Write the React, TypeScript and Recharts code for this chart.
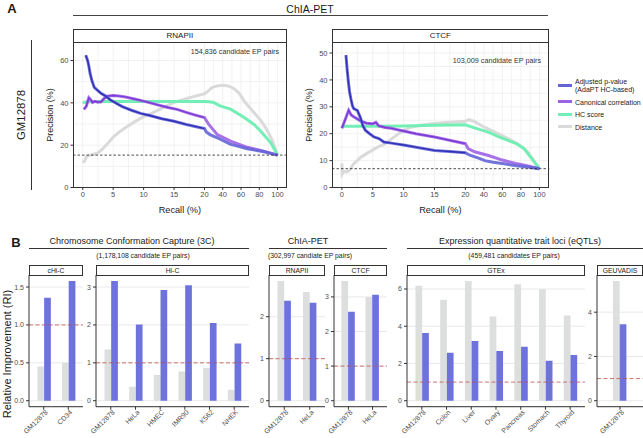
import React from 'react';
import { LineChart, Line, XAxis, YAxis, CartesianGrid, ReferenceLine, BarChart, Bar } from 'recharts';

const FONT = '"Liberation Sans", Arial, Helvetica, sans-serif';
const INK = '#1a1a1a';
const TICK = '#4d4d4d';
const FRAME = '#333333';

const COL_ADJ = '#6464d8';
const COL_ADJ_CORE = '#2f2fb5';
const COL_CC = '#9d62e6';
const COL_CC_CORE = '#7b3ad6';
const COL_HC = '#72efb4';
const COL_DIST = '#dadada';
const COL_BAR_GREY = '#dcdfdd';
const COL_BAR_BLUE = '#6e72db';
const COL_REF = '#c0504d';

// ---------------- Panel A data ----------------
const recallTicks = [0, 5, 10, 15, 20, 40, 60, 80, 100];
const recallMinor = [2.5, 7.5, 12.5, 17.5, 30, 50, 70, 90];

const rnaAdjR = [0.5, 0.8, 1.0, 1.2, 1.5, 1.9, 2.4, 3.0, 3.7, 4.5, 5.5, 6.5, 8, 9.5, 11, 13, 15, 17, 19, 20, 22, 26, 34, 48, 67, 85, 100];
const rnaAdjP = [62.5, 60, 57.4, 54, 50.5, 47.3, 46, 44.5, 43.3, 41.5, 39.8, 38.2, 36.5, 35, 34, 32.5, 31.3, 29.8, 28.5, 27.8, 26.2, 25, 23.5, 20.5, 18.3, 16.9, 15.3];
const rnaCcR = [0.2, 0.6, 1.0, 1.3, 1.6, 2.0, 2.5, 3.0, 3.5, 4.0, 5.0, 6.0, 7.0, 8.5, 10, 12, 14, 15.5, 17, 18.5, 20, 24.7, 34, 48.5, 67, 85, 100];
const rnaCcP = [36.9, 38.5, 42.4, 41.5, 40.2, 40.7, 40.3, 40.5, 42.0, 43.2, 43.5, 43.2, 42.8, 41.8, 40.8, 39.3, 37.8, 36.9, 35.5, 34.2, 33, 29.8, 25, 21.9, 19, 17.2, 15.3];
const rnaHcR = [0, 1, 3, 5, 10, 15, 20, 25, 30, 37, 48.5, 60, 67, 75, 81.6, 92.6, 100];
const rnaHcP = [40.2, 40.5, 40.6, 40.6, 40.6, 40.6, 40.6, 40.5, 40.2, 38.6, 37, 34, 32, 29.5, 26.6, 21.1, 15.3];
const rnaDistR = [0, 0.3, 0.6, 1.0, 1.5, 2.5, 3.0, 4.0, 5.0, 6.0, 7.0, 8.5, 10, 11.5, 13, 15, 17, 18.5, 20, 24, 28, 34, 40, 46, 52, 58, 64, 70, 76, 82, 88, 94, 100];
const rnaDistP = [11.8, 12.5, 14.5, 15.2, 15.5, 16.3, 17.5, 20.5, 23.8, 26.2, 28.2, 31, 33.5, 35.3, 37.5, 40.2, 42, 43.2, 44.3, 45.5, 47.2, 48, 48.3, 48, 46.8, 44.5, 40.5, 37.5, 34.5, 31.5, 27.5, 22.5, 15.3];
const rnaBaseline = 15.3;

const ctAdjR = [0.66, 0.85, 1.05, 1.25, 1.45, 1.7, 1.9, 2.2, 2.5, 3.0, 3.4, 3.8, 4.5, 5.2, 6.0, 6.8, 8, 10, 12, 15, 18, 20, 25, 35, 41, 50, 62, 75, 87, 100];
const ctAdjP = [49.2, 44, 39.3, 35.5, 33.1, 30.5, 29.4, 29, 28.7, 26, 23, 21.3, 20, 18.8, 18.2, 16.9, 16.5, 15.8, 15, 13.8, 13.3, 12.9, 12, 10.8, 10, 9.4, 8.8, 8.1, 7.6, 7];
const ctCcR = [0, 0.5, 1.1, 1.5, 1.9, 2.5, 3, 4, 5, 5.5, 6, 7, 8, 9, 10, 12, 15, 18, 20, 23, 30, 45, 60, 76.5, 90, 100];
const ctCcP = [22, 25, 28.7, 27, 26.3, 25.5, 24.8, 23.9, 23.7, 24.2, 22.9, 22.3, 22, 21.5, 21, 20, 18.8, 17.3, 16.3, 14.5, 13.3, 11.9, 10.2, 8.8, 7.8, 7];
const ctHcR = [0, 5, 10, 15, 20, 24, 35, 45, 55, 66, 75, 83.5, 90, 100];
const ctHcP = [22.8, 22.8, 22.9, 23.1, 23.3, 22.8, 21.6, 20.6, 19, 17.5, 16.3, 14.5, 11.5, 7];
const ctDistR = [0, 0.05, 0.3, 0.8, 1.3, 1.9, 2.5, 3, 4, 5, 6, 6.8, 8, 9.5, 11, 13, 15, 17, 20, 24, 30, 40, 52, 64, 76.5, 88, 100];
const ctDistP = [9, 5, 6, 5.8, 6.5, 8.8, 10, 11.2, 12.6, 14, 15.3, 15.9, 18, 20.5, 22.3, 23.2, 23.8, 24.2, 24.6, 25.2, 24.5, 22.5, 20.6, 18.6, 16.3, 13, 7];
const ctBaseline = 7;

// ---------------- Panel B data ----------------
const chicCats = ['GM12878', 'CD34'];
const chicGrey = [0.45, 0.5];
const chicBlue = [1.36, 1.58];
const hicCats = ['GM12878', 'HeLa', 'HMEC', 'IMR90', 'K562', 'NHEK'];
const hicGrey = [1.35, 0.37, 0.68, 0.77, 0.86, 0.29];
const hicBlue = [3.16, 2.01, 2.92, 3.05, 2.05, 1.51];
const rnapCats = ['GM12878', 'HeLa'];
const rnapGrey = [2.85, 2.59];
const rnapBlue = [2.38, 2.33];
const ctcfCats = ['GM12878', 'HeLa'];
const ctcfGrey = [3.46, 3.0];
const ctcfBlue = [2.57, 3.06];
const gtexCats = ['GM12878', 'Colon', 'Liver', 'Ovary', 'Pancreas', 'Stomach', 'Thyroid'];
const gtexGrey = [6.17, 5.42, 6.43, 4.52, 6.25, 5.99, 4.58];
const gtexBlue = [3.64, 2.57, 3.2, 2.67, 2.9, 2.14, 2.46];
const geuCats = ['GM12878'];
const geuGrey = [5.41];
const geuBlue = [3.45];

// ---------------- helpers ----------------
const warp = (r: number) => (r <= 20 ? r : 20 + (r - 20) * 0.15);
const pts = (rs: number[], ps: number[]) => rs.map((r, i) => ({ t: warp(r), p: ps[i] }));
const corePts = (rs: number[], ps: number[]) => pts(rs, ps).filter((d) => d.t <= 20.01);
const xTickPos = recallTicks.map(warp);
const xGrid = [...recallTicks, ...recallMinor].map(warp);
const xLabel = (v: number) => {
  const i = xTickPos.findIndex((p) => Math.abs(p - v) < 1e-6);
  return i >= 0 ? String(recallTicks[i]) : '';
};

function Txt({ x, y, size, children, anchor = 'middle', rotate = 0, weight = 400, color = INK }: any) {
  const tx = anchor === 'middle' ? '-50%' : anchor === 'end' ? '-100%' : '0';
  return (
    <div
      style={{
        position: 'absolute', left: x, top: y, fontSize: size, fontWeight: weight, color,
        fontFamily: FONT, lineHeight: 1, whiteSpace: 'nowrap',
        transform: `translate(${tx}, -50%) rotate(${rotate}deg)`, transformOrigin: '50% 50%',
      }}
    >
      {children}
    </div>
  );
}

function Box({ x, y, w, h, border = `1px solid ${FRAME}`, bg = 'transparent' }: any) {
  return <div style={{ position: 'absolute', left: x, top: y, width: w, height: h, border, background: bg, boxSizing: 'border-box' }} />;
}

function Strip({ x, y, w, h, label, size }: any) {
  return (
    <div style={{
      position: 'absolute', left: x, top: y, width: w, height: h, border: `1px solid ${FRAME}`, boxSizing: 'border-box',
      display: 'flex', alignItems: 'center', justifyContent: 'center', fontSize: size, fontFamily: FONT, color: INK, background: '#fff',
    }}>{label}</div>
  );
}

function PRPanel({ x, w, yMax, yTicks, yGrid, base, strip, note, noteY, adj, cc, hc, dist }: any) {
  const top = 42, h = 145.5, axW = 30, axH = 22;
  return (
    <>
      <div style={{ position: 'absolute', left: x - axW, top }}>
        <LineChart width={axW + w} height={h + axH} margin={{ top: 0, right: 0, bottom: 0, left: 0 }}>
          <CartesianGrid stroke="#ececec" strokeWidth={0.7} horizontalValues={yGrid} verticalValues={xGrid} />
          <XAxis type="number" dataKey="t" domain={[-1.6, 33.6]} allowDataOverflow ticks={xTickPos} interval={0}
            tickFormatter={xLabel} tickSize={2.5} axisLine={false} tickLine={{ stroke: FRAME }}
            tick={{ fontSize: 7.5, fill: TICK, fontFamily: FONT }} height={axH} />
          <YAxis type="number" domain={[0, yMax]} allowDataOverflow ticks={yTicks} interval={0} width={axW}
            tickSize={2.5} axisLine={false} tickLine={{ stroke: FRAME }}
            tick={{ fontSize: 7.5, fill: TICK, fontFamily: FONT }} />
          <Line data={dist} dataKey="p" stroke={COL_DIST} strokeWidth={3} dot={false} isAnimationActive={false} />
          <Line data={hc} dataKey="p" stroke={COL_HC} strokeWidth={3} dot={false} isAnimationActive={false} />
          <Line data={cc.all} dataKey="p" stroke={COL_CC} strokeWidth={3} strokeOpacity={0.9} dot={false} isAnimationActive={false} />
          <Line data={cc.core} dataKey="p" stroke={COL_CC_CORE} strokeWidth={1.4} dot={false} isAnimationActive={false} />
          <Line data={adj.all} dataKey="p" stroke={COL_ADJ} strokeWidth={3} strokeOpacity={0.9} dot={false} isAnimationActive={false} />
          <Line data={adj.core} dataKey="p" stroke={COL_ADJ_CORE} strokeWidth={1.4} dot={false} isAnimationActive={false} />
          <ReferenceLine y={base} stroke="#222" strokeDasharray="2.5 2" strokeWidth={0.8} />
        </LineChart>
      </div>
      <Box x={x} y={top} w={w} h={h} />
      <Strip x={x} y={29} w={w} h={13.5} label={strip} size={8} />
      <Txt x={x + w - 8} y={noteY} size={7.2} anchor="end" color="#333">{note}</Txt>
      <Txt x={x - 23} y={115} size={9} rotate={-90}>Precision (%)</Txt>
      <Txt x={x + w / 2} y={211} size={9.2}>Recall (%)</Txt>
    </>
  );
}

const RotTick = (props: any) => {
  const { x, y, payload } = props;
  return (
    <text transform={`translate(${x + 2},${y - 1.5}) rotate(-45)`} textAnchor="end" fontSize={7} fill={TICK}
      fontFamily={FONT} dy="0.5em">{payload.value}</text>
  );
};

function RIPanel({ x, w, cats, grey, blue, ticks, fmt, pad, strip }: any) {
  const top = 275, h = 131.7, axW = 28, axH = 45;
  const data = cats.map((c: string, i: number) => ({ c, g: grey[i], b: blue[i] }));
  const m = Math.max(...grey, ...blue);
  return (
    <>
      <div style={{ position: 'absolute', left: x - axW, top }}>
        <BarChart width={axW + w} height={h + axH} data={data} margin={{ top: 0, right: 0, bottom: 0, left: 0 }} barGap={0}>
          <CartesianGrid vertical={false} stroke="#e3e3e3" strokeWidth={0.8} />
          <XAxis dataKey="c" type="category" padding={{ left: pad, right: pad }} interval={0} tickSize={3}
            axisLine={{ stroke: FRAME }} tickLine={{ stroke: FRAME }} tick={<RotTick />} height={axH} />
          <YAxis type="number" domain={[-0.05 * m, 1.05 * m]} allowDataOverflow ticks={ticks} interval={0}
            tickFormatter={fmt} width={axW} tickSize={3} axisLine={{ stroke: FRAME }} tickLine={{ stroke: FRAME }}
            tick={{ fontSize: 7, fill: TICK, fontFamily: FONT }} />
          <Bar dataKey="g" fill={COL_BAR_GREY} barSize={6.7} isAnimationActive={false} />
          <Bar dataKey="b" fill={COL_BAR_BLUE} barSize={6.7} isAnimationActive={false} />
          <ReferenceLine y={1} stroke={COL_REF} strokeDasharray="4 2.5" strokeWidth={1} strokeOpacity={0.8} />
        </BarChart>
      </div>
      <Strip x={x} y={265} w={w} h={10.5} label={strip} size={6.8} />
    </>
  );
}

const legendItems = [
  { label: ['Adjusted p-value', '(AdaPT HC-based)'], color: COL_ADJ },
  { label: ['Canonical correlation'], color: COL_CC },
  { label: ['HC score'], color: COL_HC },
  { label: ['Distance'], color: COL_DIST },
];
const legendY = [85, 101.7, 114.3, 126.7];

export default function App() {
  const intFmt = (v: number) => String(v);
  const oneDec = (v: number) => v.toFixed(1);
  return (
    <div style={{ position: 'relative', width: 643, height: 438, overflow: 'hidden', background: '#fff', fontFamily: FONT }}>
      <style>{'body{margin:0} .recharts-surface{overflow:visible}'}</style>

      {/* Panel A */}
      <Txt x={12} y={8} size={13} weight={700}>A</Txt>
      <Txt x={310} y={8.5} size={10.5}>ChIA-PET</Txt>
      <div style={{ position: 'absolute', left: 72.7, top: 14.5, width: 475.3, height: 1.3, background: '#444' }} />
      <Txt x={22} y={115} size={11.4} rotate={-90}>GM12878</Txt>
      <div style={{ position: 'absolute', left: 30.5, top: 40, width: 1, height: 150, background: '#333' }} />

      <PRPanel x={72.7} w={214.3} yMax={68.75} yTicks={[0, 20, 40, 60]} yGrid={[0, 10, 20, 30, 40, 50, 60]}
        base={rnaBaseline} strip="RNAPII" note="154,836 candidate EP pairs" noteY={52}
        adj={{ all: pts(rnaAdjR, rnaAdjP), core: corePts(rnaAdjR, rnaAdjP) }}
        cc={{ all: pts(rnaCcR, rnaCcP), core: corePts(rnaCcR, rnaCcP) }}
        hc={pts(rnaHcR, rnaHcP)} dist={pts(rnaDistR, rnaDistP)} />
      <PRPanel x={331.7} w={217.3} yMax={54.1} yTicks={[0, 10, 20, 30, 40, 50]} yGrid={[0, 5, 10, 15, 20, 25, 30, 35, 40, 45, 50]}
        base={ctBaseline} strip="CTCF" note="103,009 candidate EP pairs" noteY={61}
        adj={{ all: pts(ctAdjR, ctAdjP), core: corePts(ctAdjR, ctAdjP) }}
        cc={{ all: pts(ctCcR, ctCcP), core: corePts(ctCcR, ctCcP) }}
        hc={pts(ctHcR, ctHcP)} dist={pts(ctDistR, ctDistP)} />

      {legendItems.map((it, i) => (
        <React.Fragment key={i}>
          <div style={{ position: 'absolute', left: 558, top: legendY[i] - 1.5, width: 14, height: 3, background: it.color }} />
          {it.label.length === 2 ? (
            <>
              <Txt x={575} y={legendY[i] - 4} size={7} anchor="start">{it.label[0]}</Txt>
              <Txt x={575} y={legendY[i] + 4} size={7} anchor="start">{it.label[1]}</Txt>
            </>
          ) : (
            <Txt x={575} y={legendY[i]} size={7} anchor="start">{it.label[0]}</Txt>
          )}
        </React.Fragment>
      ))}

      {/* Panel B */}
      <Txt x={16} y={241.5} size={13} weight={700}>B</Txt>
      <Txt x={7} y={354} size={11} rotate={-90}>Relative Improvement (RI)</Txt>

      <Txt x={132} y={241} size={9}>Chromosome Conformation Capture (3C)</Txt>
      <div style={{ position: 'absolute', left: 29, top: 248, width: 220, height: 1, background: '#333' }} />
      <Txt x={143} y={256} size={6.8}>(1,178,108 candidate EP pairs)</Txt>

      <Txt x={308} y={241} size={9}>ChIA-PET</Txt>
      <div style={{ position: 'absolute', left: 269, top: 248, width: 118, height: 1, background: '#333' }} />
      <Txt x={310} y={256} size={6.8}>(302,997 candiate EP pairs)</Txt>

      <Txt x={520} y={241} size={9}>Expression quantitative trait loci (eQTLs)</Txt>
      <div style={{ position: 'absolute', left: 407, top: 248, width: 236, height: 1, background: '#333' }} />
      <Txt x={514} y={256} size={6.8}>(459,481 candidates EP pairs)</Txt>

      <RIPanel x={29} w={54} cats={chicCats} grey={chicGrey} blue={chicBlue} ticks={[0, 0.5, 1, 1.5]} fmt={oneDec} pad={2.45} strip="cHi-C" />
      <RIPanel x={96} w={153} cats={hicCats} grey={hicGrey} blue={hicBlue} ticks={[0, 1, 2, 3]} fmt={intFmt} pad={2.47} strip="Hi-C" />
      <RIPanel x={269} w={56} cats={rnapCats} grey={rnapGrey} blue={rnapBlue} ticks={[0, 1, 2]} fmt={intFmt} pad={2.5} strip="RNAPII" />
      <RIPanel x={334} w={53} cats={ctcfCats} grey={ctcfGrey} blue={ctcfBlue} ticks={[0, 1, 2, 3]} fmt={intFmt} pad={2.4} strip="CTCF" />
      <RIPanel x={407} w={178} cats={gtexCats} grey={gtexGrey} blue={gtexBlue} ticks={[0, 2, 4, 6]} fmt={intFmt} pad={2.47} strip="GTEx" />
      <RIPanel x={597} w={46} cats={geuCats} grey={geuGrey} blue={geuBlue} ticks={[0, 2, 4]} fmt={intFmt} pad={0} strip="GEUVADIS" />
    </div>
  );
}
